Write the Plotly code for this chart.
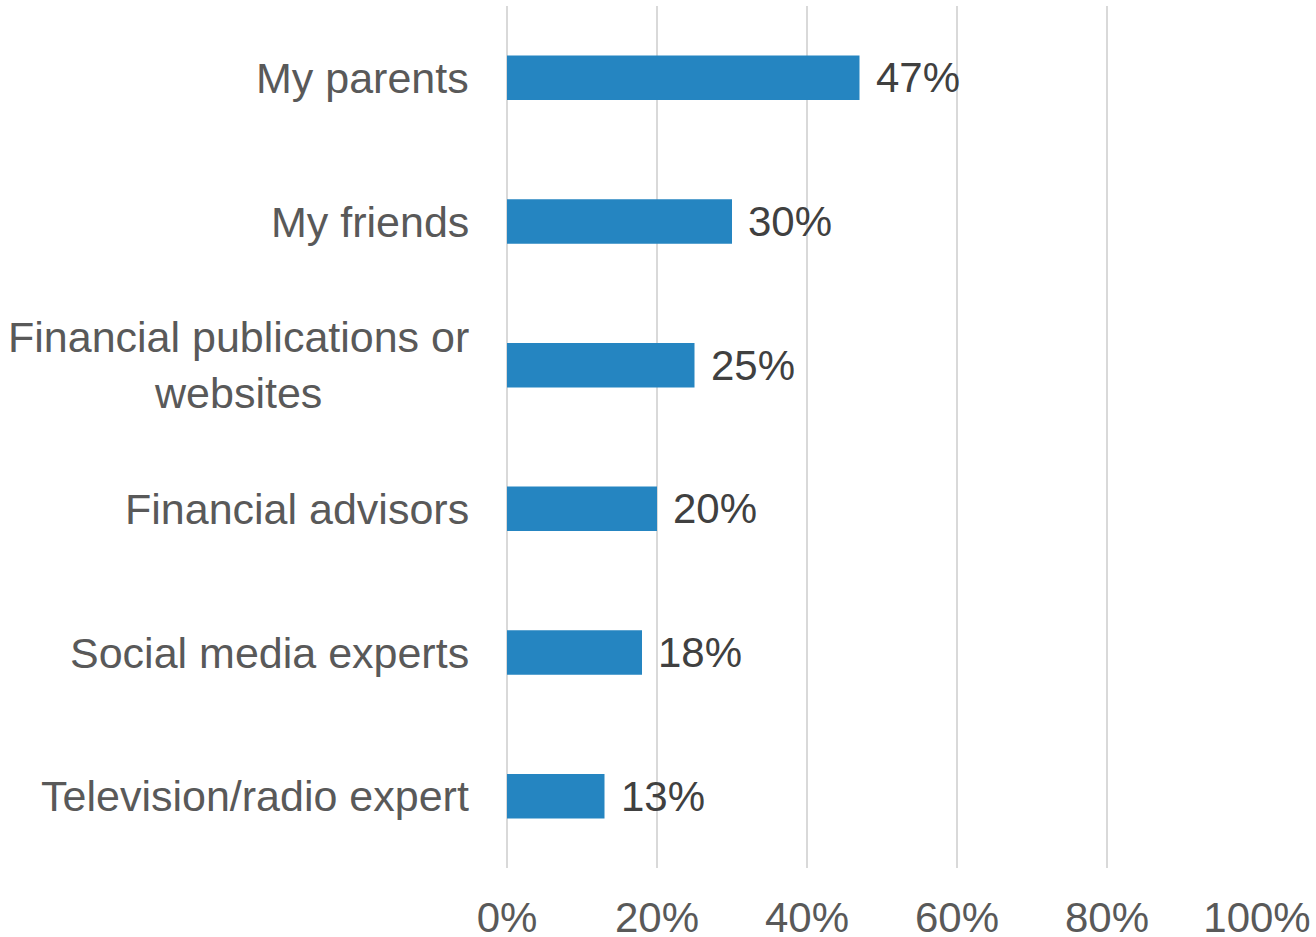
import plotly.graph_objects as go

categories = [
    "My parents",
    "My friends",
    "Financial publications or<br>websites",
    "Financial advisors",
    "Social media experts",
    "Television/radio expert",
]
values = [0.47, 0.30, 0.25, 0.20, 0.18, 0.13]
x_ticks = [0, 0.2, 0.4, 0.6, 0.8, 1.0]
x_tick_labels = ["0%", "20%", "40%", "60%", "80%", "100%"]

FONT = "Liberation Sans, Arial, sans-serif"
BAR_COLOR = "#2585C1"
AXIS_TEXT = "#595959"
LABEL_TEXT = "#404040"
GRID = "#D9D9D9"

fig = go.Figure(
    go.Bar(
        x=values,
        y=categories,
        orientation="h",
        marker=dict(color=BAR_COLOR, line=dict(width=0)),
        width=0.31,
        hoverinfo="skip",
    )
)

# value labels at the end of each bar
for cat, v in zip(categories, values):
    fig.add_annotation(
        x=v, y=cat, xref="x", yref="y",
        text=f"{round(v * 100)}%",
        showarrow=False, xanchor="left", yanchor="middle",
        xshift=14,
        font=dict(family=FONT, size=42, color=LABEL_TEXT),
    )

# category labels, centred per line
for cat in categories:
    fig.add_annotation(
        x=0, y=cat, xref="x", yref="y",
        text=cat,
        showarrow=False, xanchor="right", yanchor="middle", align="center",
        xshift=-36,
        font=dict(family=FONT, size=43, color=AXIS_TEXT),
    )

fig.update_layout(
    width=1316,
    height=937,
    margin=dict(l=507, r=59, t=6, b=69),
    paper_bgcolor="white",
    plot_bgcolor="white",
    showlegend=False,
    font=dict(family=FONT, size=42, color=AXIS_TEXT),
)

fig.update_xaxes(
    range=[0, 1],
    tickvals=x_ticks,
    ticktext=x_tick_labels,
    showgrid=True,
    gridcolor=GRID,
    gridwidth=2,
    zeroline=True,
    zerolinecolor=GRID,
    zerolinewidth=2,
    showline=False,
    ticks="outside",
    ticklen=13,
    tickcolor="rgba(0,0,0,0)",
    tickfont=dict(family=FONT, size=42, color=AXIS_TEXT),
    automargin=False,
    fixedrange=True,
)

fig.update_yaxes(
    categoryorder="array",
    categoryarray=categories,
    autorange="reversed",
    showticklabels=False,
    showgrid=False,
    zeroline=False,
    showline=False,
    automargin=False,
    fixedrange=True,
)

fig.write_html("out.html", config={"displayModeBar": False})
